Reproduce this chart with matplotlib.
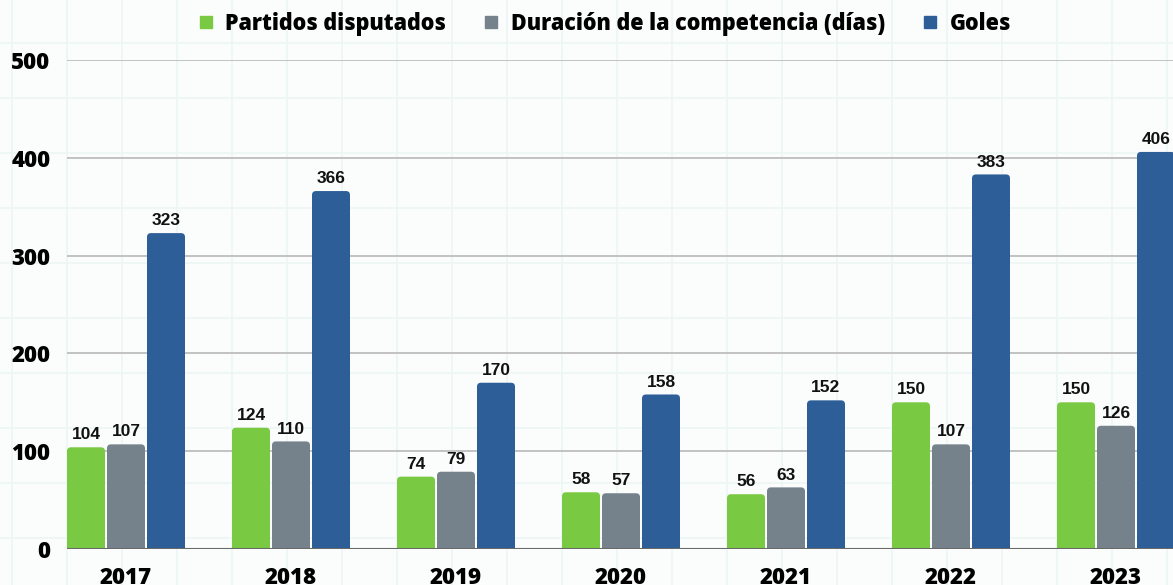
import numpy as np
import matplotlib.pyplot as plt
from matplotlib.patches import FancyBboxPatch
from matplotlib.lines import Line2D

# --- Data -------------------------------------------------------------------
years = ["2017", "2018", "2019", "2020", "2021", "2022", "2023"]
partidos = [104, 124, 74, 58, 56, 150, 150]
duracion = [107, 110, 79, 57, 63, 107, 126]
goles = [323, 366, 170, 158, 152, 383, 406]
series_names = ["Partidos disputados", "Duración de la competencia (días)", "Goles"]

# --- Style ------------------------------------------------------------------
colors = ["#7AC943", "#75828C", "#2D5E98"]
W, H = 1173, 585
fig = plt.figure(figsize=(W / 100, H / 100), dpi=100)
fig.patch.set_facecolor("#fbfcfc")

# faint graph-paper background
bg = fig.add_axes([0, 0, 1, 1], zorder=-10)
bg.set_xlim(0, W)
bg.set_ylim(H, 0)
bg.axis("off")
for gx in np.arange(12, W, 55):
    bg.axvline(gx, color="#edf5f5", lw=1.2)
for gy in np.arange(43, H, 55):
    bg.axhline(gy, color="#edf5f5", lw=1.2)

left_px, right_px, top_px, bot_px = 67, 1173, 60, 549
ax = fig.add_axes([left_px / W, (H - bot_px) / H, (right_px - left_px) / W, (bot_px - top_px) / H])
ax.set_facecolor("none")

group_px = 165.0
step = 40 / group_px
width = 38 / group_px
x = np.arange(len(years))

ax.set_xlim(-(126 - left_px) / group_px, (right_px - 126) / group_px)
ax.set_ylim(0, 500)

rx = 4 / group_px
ry = 4 * 500 / (bot_px - top_px)

for i, (vals, c) in enumerate(zip([partidos, duracion, goles], colors)):
    bars = ax.bar(x + (i - 1) * step, vals, width, color=c, zorder=3)
    for b, v in zip(bars, vals):
        bx, bw, bh = b.get_x(), b.get_width(), b.get_height()
        b.remove()
        p = FancyBboxPatch((bx, -ry), bw, bh + ry,
                           boxstyle="round,pad=0,rounding_size=%f" % rx,
                           mutation_aspect=ry / rx, fc=c, ec="none", zorder=3)
        ax.add_patch(p)
        ax.annotate(str(v), (bx + bw / 2, bh), xytext=(0, 3.5), textcoords="offset points",
                    ha="center", va="bottom", fontsize=12.5, fontweight="bold",
                    family="Liberation Sans", color="#111111", zorder=4)

ax.set_yticks([0, 100, 200, 300, 400, 500])
ax.yaxis.grid(True, color="#b8b8b8", lw=1.2, zorder=0)
ax.axhline(0, color="#6a6a6a", lw=1.5, zorder=4)
for s in ax.spines.values():
    s.set_visible(False)
ax.set_xticks(x)
ax.set_xticklabels(years)
ax.tick_params(length=0)
ax.tick_params(axis="y", pad=12)
ax.tick_params(axis="x", pad=12)
for lab in ax.get_xticklabels() + ax.get_yticklabels():
    lab.set_fontfamily("Open Sans")
    lab.set_fontweight("heavy")
    lab.set_fontsize(16)
    lab.set_color("black")

handles = [Line2D([], [], marker="s", ls="none", color=c, markersize=8) for c in colors]
leg = fig.legend(handles, series_names, loc="center", bbox_to_anchor=(604 / W, 1 - 24 / H),
                 ncol=3, frameon=False, handlelength=0.8, handletextpad=0.5, columnspacing=1.7,
                 prop={"family": "Open Sans", "weight": "heavy", "size": 15.5})

fig.savefig("out.png", dpi=100, facecolor=fig.get_facecolor())
